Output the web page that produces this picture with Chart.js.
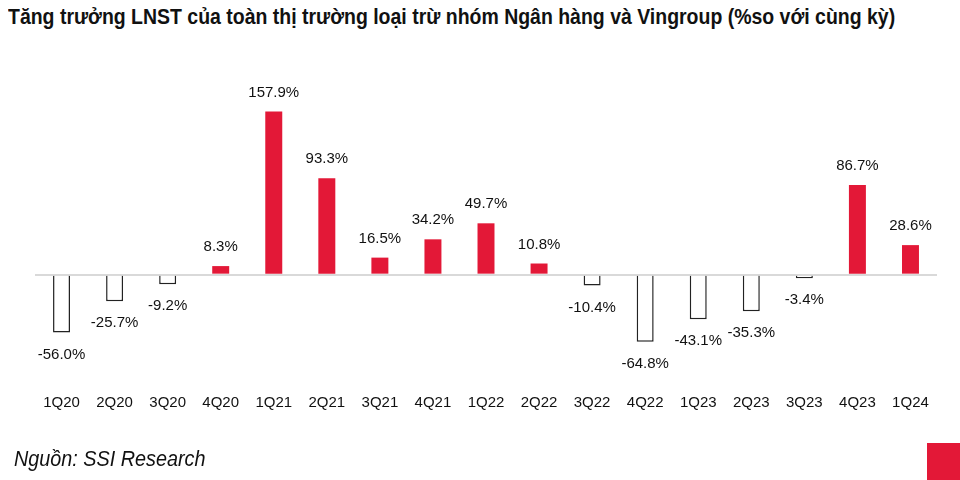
<!DOCTYPE html>
<html>
<head>
<meta charset="utf-8">
<script src="https://cdn.jsdelivr.net/npm/chart.js@4"></script>
<style>
  body { margin: 0; background: #fff; }
  #wrap { position: relative; width: 960px; height: 480px; overflow: hidden; }
  #title { position: absolute; left: 8px; top: 4px; font: bold 22px "Liberation Sans", sans-serif; color: #111; white-space: nowrap; transform: scaleX(0.885); transform-origin: left top; }
  #source { position: absolute; left: 14px; top: 446px; font: italic 22px "Liberation Sans", sans-serif; color: #111; white-space: nowrap; transform: scaleX(0.9); transform-origin: left top; }
  #corner { position: absolute; left: 927px; top: 443px; width: 33px; height: 37px; background: #e31837; }
  canvas { position: absolute; left: 0; top: 0; }
</style>
</head>
<body>
<div id="wrap">
  <div id="title">Tăng trưởng LNST của toàn thị trường loại trừ nhóm Ngân hàng và Vingroup (%so với cùng kỳ)</div>
  <canvas id="myChart" width="960" height="480"></canvas>
  <div id="source">Nguồn: SSI Research</div>
  <div id="corner"></div>
</div>
<script>
// data
const quarters = ["1Q20", "2Q20", "3Q20", "4Q20", "1Q21", "2Q21", "3Q21", "4Q21", "1Q22",
  "2Q22", "3Q22", "4Q22", "1Q23", "2Q23", "3Q23", "4Q23", "1Q24"];
const growth = [-56.0, -25.7, -9.2, 8.3, 157.9, 93.3, 16.5, 34.2, 49.7,
  10.8, -10.4, -64.8, -43.1, -35.3, -3.4, 86.7, 28.6];

const red = "#e31837";
const fontName = '"Liberation Sans", sans-serif';

// value labels above / below bars
const valueLabels = {
  id: "valueLabels",
  afterDatasetsDraw(chart) {
    const c = chart.ctx;
    const meta = chart.getDatasetMeta(0);
    c.save();
    c.font = "15px " + fontName;
    c.fillStyle = "#111";
    c.textAlign = "center";
    c.textBaseline = "middle";
    meta.data.forEach((bar, i) => {
      const v = growth[i];
      const y = v >= 0 ? bar.y - 19 : bar.y + 22;
      c.fillText(v.toFixed(1) + "%", bar.x, y);
    });
    c.restore();
  },
};

const ctx = document.getElementById("myChart");
const chart = new Chart(ctx, {
  type: "bar",
  data: {
    labels: quarters,
    datasets: [
      {
        data: growth,
        backgroundColor: growth.map((v) => (v >= 0 ? red : "#fff")),
        borderColor: growth.map((v) => (v >= 0 ? red : "#222")),
        borderWidth: growth.map((v) => (v >= 0 ? 0 : 1.5)),
        barPercentage: 0.32,
        categoryPercentage: 1,
      },
    ],
  },
  options: {
    responsive: false,
    animation: false,
    layout: { padding: { left: 35, right: 23, top: 68, bottom: 60 } },
    plugins: {
      legend: { display: false },
      tooltip: { enabled: false },
    },
    scales: {
      x: {
        grid: { display: false },
        border: { display: false },
        ticks: { color: "#111", font: { family: fontName, size: 15 }, padding: 8 },
      },
      y: {
        min: -100,
        max: 200,
        ticks: { display: false },
        border: { display: false },
        grid: {
          drawTicks: false,
          lineWidth: 2,
          color: (c) => (c.tick && c.tick.value === 0 ? "#d9d9d9" : "rgba(0,0,0,0)"),
        },
      },
    },
  },
  plugins: [valueLabels],
});
</script>
</body>
</html>
